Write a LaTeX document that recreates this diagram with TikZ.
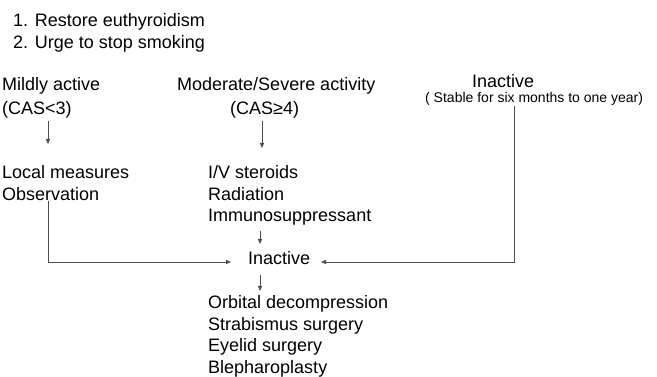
\documentclass[tikz,border=0pt]{standalone}
\usepackage{fontspec}
\setmainfont{Liberation Sans}
\usetikzlibrary{arrows.meta}
\begin{document}
\begin{tikzpicture}[x=1pt,y=-1pt]
    \tikzstyle{plain text}=[inner sep=0,anchor=base west,align=left,font=\fontsize{18}{21.7}\selectfont]
    \tikzstyle{small text}=[inner sep=0,anchor=base west,font=\fontsize{14}{16}\selectfont]
    \tikzset{
    link/.style={draw=black!70,line width=0.8pt},
    link arrow/.style={link,-{Triangle[length=5pt,width=4pt]}}
    }
    \useasboundingbox (0,0) rectangle (657,377);
    % general measures (base = last line)
    \node[plain text] (general) at (13,48.2) {1. Restore euthyroidism\\2. Urge to stop smoking};
    % three columns
    \node[plain text] (mild) at (2,114.7) {Mildly active\\[2.5pt](CAS<3)};
    \node[plain text] (severe) at (177,90.5) {Moderate/Severe activity};
    \node[plain text] (severe cas) at (230,114.5) {(CAS≥4)};
    \node[plain text] (inactive) at (472,88) {Inactive};
    \node[small text] (stable) at (425,102.5) {( Stable for six months to one year)};
    \node[plain text] (local) at (2,200.2) {Local measures\\Observation};
    \node[plain text] (steroids) at (208,221.9) {I/V steroids\\Radiation\\Immunosuppressant};
    \node[plain text] (mid inactive) at (248,264.5) {Inactive};
    \node[plain text] (surgery) at (208,373.6) {Orbital decompression\\Strabismus surgery\\Eyelid surgery\\Blepharoplasty};
    % arrows
    \coordinate (mild top) at (48,121);
    \coordinate (mild end) at (48,144);
    \coordinate (severe top) at (262,121);
    \coordinate (severe end) at (262,148);
    \coordinate (steroid top) at (260,231);
    \coordinate (steroid end) at (260,244);
    \coordinate (mid top) at (260,275);
    \coordinate (mid end) at (260,291);
    \coordinate (left corner) at (48,262);
    \coordinate (left end) at (231,262);
    \coordinate (right corner) at (514,262);
    \coordinate (right end) at (321,262);
    \draw[link arrow] (mild top) -- (mild end);
    \draw[link arrow] (severe top) -- (severe end);
    \draw[link arrow] (steroid top) -- (steroid end);
    \draw[link arrow] (mid top) -- (mid end);
    \draw[link arrow] (local.south -| left corner) -- (left corner) -- (left end);
    \draw[link arrow] (stable.south -| right corner) -- (right corner) -- (right end);
\end{tikzpicture}
\end{document}
